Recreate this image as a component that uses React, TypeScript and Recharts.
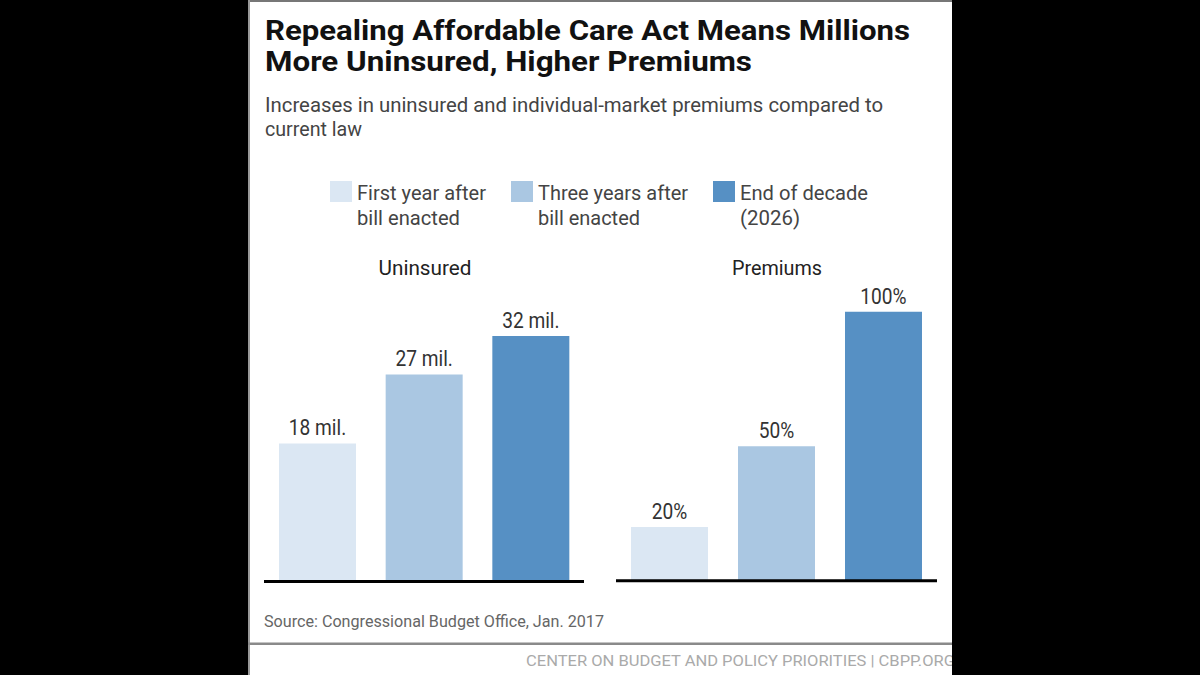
import React from 'react';
import { BarChart, Bar, XAxis, YAxis, Cell, LabelList } from 'recharts';

// ---- data ----
const periods = ['First year after bill enacted', 'Three years after bill enacted', 'End of decade (2026)'];
const legendLines = [
  ['First year after', 'bill enacted'],
  ['Three years after', 'bill enacted'],
  ['End of decade', '(2026)'],
];
const uninsuredValues = [18, 27, 32];
const uninsuredLabels = ['18 mil.', '27 mil.', '32 mil.'];
const premiumValues = [20, 50, 100];
const premiumLabels = ['20%', '50%', '100%'];
const titleLines = ['Repealing Affordable Care Act Means Millions', 'More Uninsured, Higher Premiums'];
const subtitleLines = ['Increases in uninsured and individual-market premiums compared to', 'current law'];
const panelTitles = ['Uninsured', 'Premiums'];
const sourceText = 'Source: Congressional Budget Office, Jan. 2017';
const footerText = 'CENTER ON BUDGET AND POLICY PRIORITIES | CBPP.ORG';

// ---- styles ----
const seriesColors = ['#dbe7f3', '#aac7e2', '#5690c4'];
const FONT = 'Roboto, "Noto Sans", sans-serif';

const uninsuredRows = periods.map((p, i) => ({ period: p, value: uninsuredValues[i], label: uninsuredLabels[i] }));
const premiumRows = periods.map((p, i) => ({ period: p, value: premiumValues[i], label: premiumLabels[i] }));

const BarLabel = (props: any) => {
  const { x, y, width, value } = props;
  const cx = Number(x) + Number(width) / 2;
  const by = Number(y) - 8;
  return (
    <text
      x={cx}
      y={by}
      textAnchor="middle"
      fontFamily={FONT}
      fontSize={22}
      fill="#333"
      transform={`translate(${cx} 0) scale(0.87 1) translate(${-cx} 0)`}
    >
      {value}
    </text>
  );
};

type FitProps = {
  x: number; y: number; w: number; size: number; weight?: number; fill: string; children: string; anchor?: 'start' | 'middle' | 'end';
};
const Fit = ({ x, y, w, size, weight = 400, fill, children, anchor = 'start' }: FitProps) => (
  <text
    x={x}
    y={y}
    fontFamily={FONT}
    fontSize={size}
    fontWeight={weight}
    fill={fill}
    textAnchor={anchor}
    textLength={w}
    lengthAdjust="spacingAndGlyphs"
  >
    {children}
  </text>
);

const MiniChart = ({ rows, domain, left, top, width, plotHeight }: any) => (
  <div style={{ position: 'absolute', left, top }}>
    <BarChart
      width={width}
      height={plotHeight + 10}
      data={rows}
      margin={{ top: 0, right: 0, bottom: 0, left: 0 }}
      barCategoryGap={0}
    >
      <XAxis
        dataKey="period"
        tick={false}
        tickLine={false}
        height={10}
        axisLine={{ stroke: '#000', strokeWidth: 3 }}
      />
      <YAxis hide domain={domain} />
      <Bar dataKey="value" barSize={77} isAnimationActive={false}>
        {rows.map((r: any, i: number) => (
          <Cell key={r.period} fill={seriesColors[i]} />
        ))}
        <LabelList dataKey="label" content={BarLabel} />
      </Bar>
    </BarChart>
  </div>
);

export default function App() {
  const legendX = [330, 511, 713];
  const legendW = [
    [129, 103],
    [150, 102],
    [128, 60],
  ];
  return (
    <div style={{ position: 'absolute', left: 0, top: 0, width: 1200, height: 675, background: '#000', overflow: 'hidden' }}>
      <div
        style={{
          position: 'absolute',
          left: 248,
          top: 0,
          width: 704,
          height: 675,
          background: '#fff',
          overflow: 'hidden',
        }}
      />
      <MiniChart rows={uninsuredRows} domain={[0, 50]} left={264} top={197.5} width={320} plotHeight={383.5} />
      <MiniChart rows={premiumRows} domain={[0, 130]} left={615.5} top={231.3} width={321} plotHeight={349.7} />
      <svg
        width={1200}
        height={675}
        style={{ position: 'absolute', left: 0, top: 0, pointerEvents: 'none' }}
      >
        <defs>
          <clipPath id="panelClip">
            <rect x={248} y={0} width={704} height={675} />
          </clipPath>
        </defs>
        <rect x={248} y={0} width={704} height={2} fill="#777" />
        <rect x={248} y={0} width={2} height={675} fill="#999" />
        <Fit x={265} y={39.5} w={645} size={27} weight={700} fill="#111">{titleLines[0]}</Fit>
        <Fit x={265} y={70.5} w={487} size={27} weight={700} fill="#111">{titleLines[1]}</Fit>
        <Fit x={265} y={112} w={618} size={21} fill="#444">{subtitleLines[0]}</Fit>
        <Fit x={265} y={136} w={97} size={21} fill="#444">{subtitleLines[1]}</Fit>
        {legendLines.map((lines, i) => (
          <g key={lines[0]}>
            <rect x={legendX[i]} y={181} width={22} height={21} fill={seriesColors[i]} />
            <Fit x={legendX[i] + 27} y={200} w={legendW[i][0]} size={21} fill="#444">{lines[0]}</Fit>
            <Fit x={legendX[i] + 27} y={225} w={legendW[i][1]} size={21} fill="#444">{lines[1]}</Fit>
          </g>
        ))}
        <Fit x={425} y={275} w={93} size={20} fill="#222" anchor="middle">{panelTitles[0]}</Fit>
        <Fit x={777} y={275} w={90} size={20} fill="#222" anchor="middle">{panelTitles[1]}</Fit>
        <Fit x={264} y={626.5} w={340} size={16} fill="#666">{sourceText}</Fit>
        <rect x={248} y={642.5} width={704} height={2.5} fill="#8a8a8a" />
        <g clipPath="url(#panelClip)">
          <Fit x={526} y={665.5} w={429} size={15} fill="#aaa">{footerText}</Fit>
        </g>
      </svg>
    </div>
  );
}
